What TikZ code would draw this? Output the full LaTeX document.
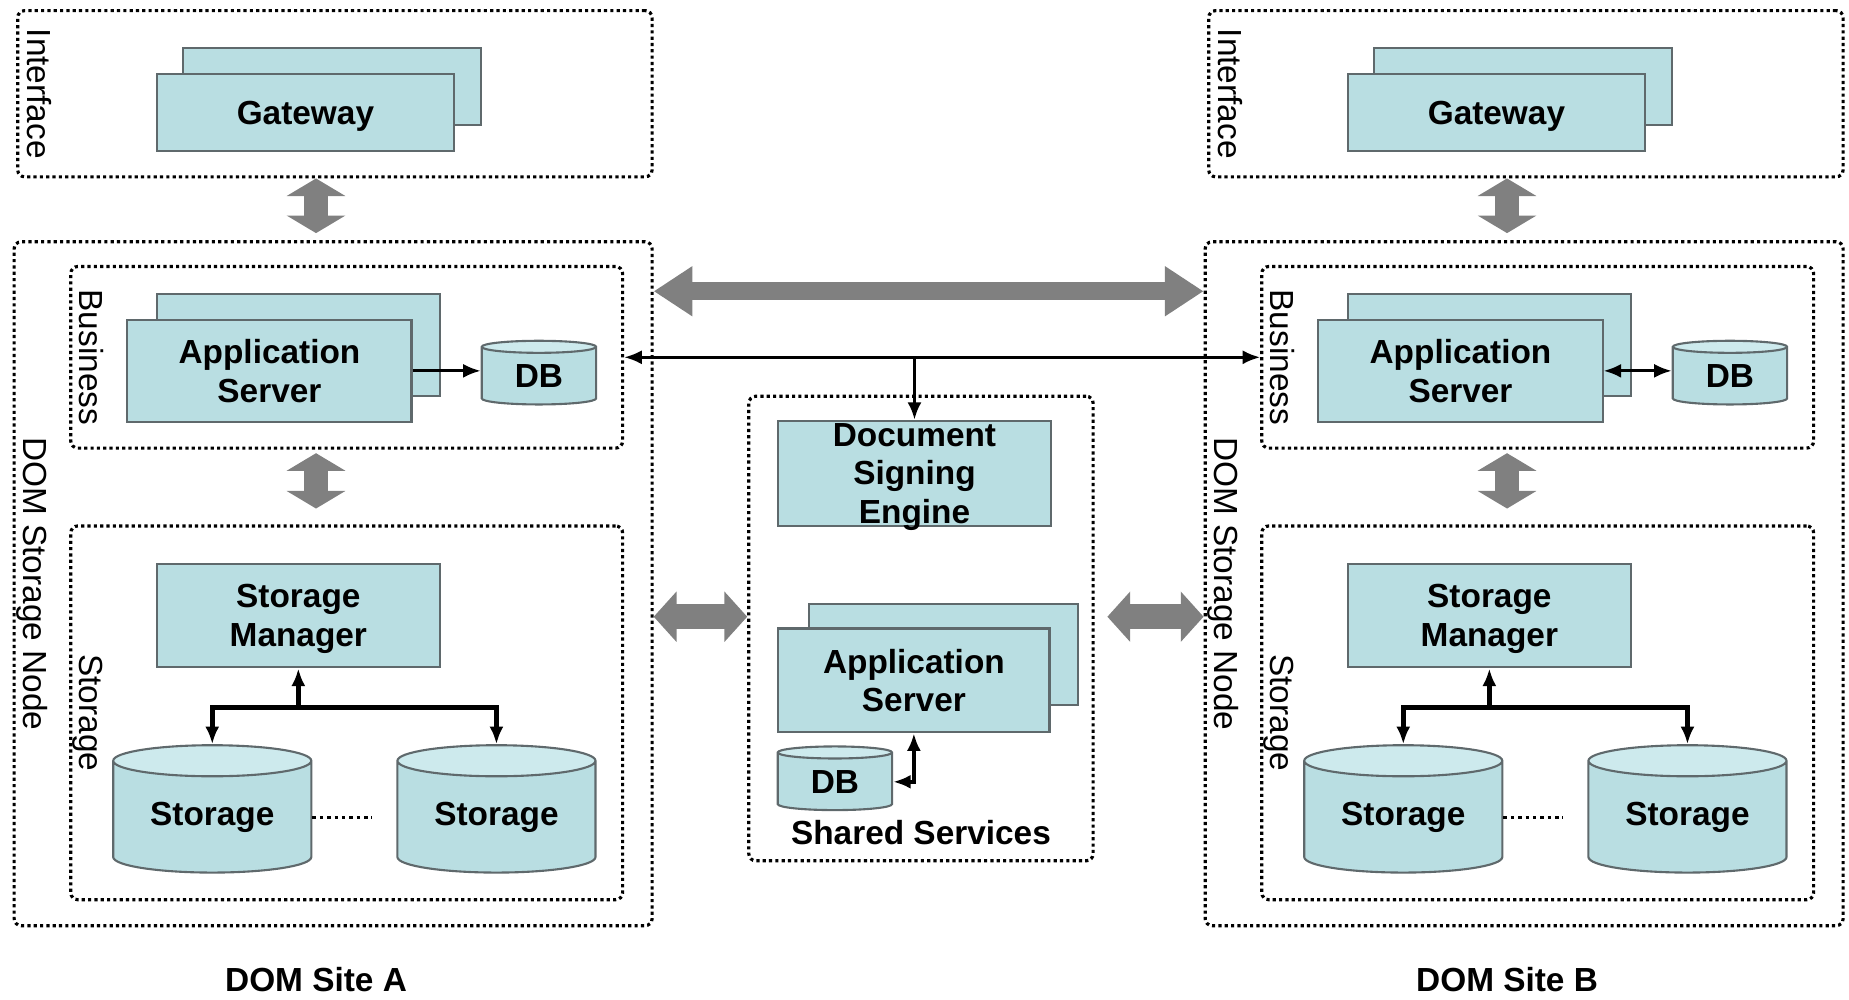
\documentclass[tikz,border=0pt]{standalone}
\usepackage{fontspec}
\setmainfont{Liberation Sans}
\usetikzlibrary{positioning,arrows.meta,calc,fit,shapes.geometric}
\definecolor{aqua}{RGB}{185,222,226}
\definecolor{aquatop}{RGB}{205,234,237}
\definecolor{rim}{RGB}{95,105,108}
\definecolor{pipe}{RGB}{128,128,128}
\newcommand{\boxfont}{\fontsize{9.5}{11}\selectfont\bfseries}
\newcommand{\pxl}{0.01179cm}
\tikzset{
  layer/.style={draw,line width=0.9pt,dash pattern=on 0.9pt off 0.9pt,rounded corners=2pt,inner sep=0pt},
  comp/.style={draw=rim,fill=aqua,line width=0.6pt,inner sep=0pt,align=center,text depth=0pt,font=\boxfont},
  dims/.style 2 args={minimum width=#1*\pxl,minimum height=#2*\pxl},
  dbase/.style={cylinder,shape border rotate=90,aspect=0.25,draw=rim,line width=0.6pt,inner sep=0pt,
    cylinder uses custom fill,cylinder body fill=aqua,cylinder end fill=aquatop,font=\boxfont},
  tag/.style={rotate=-90,anchor=base,inner sep=0pt,font=\fontsize{9.5}{11}\selectfont},
  title/.style={inner sep=0pt,font=\boxfont},
  link/.style={line width=0.8pt,{Latex[length=5pt,width=4pt]}-{Latex[length=5pt,width=4pt]}},
  fwd/.style={line width=0.8pt,-{Latex[length=5pt,width=4pt]}},
  bigflow/.style={draw=pipe,line width=5pt,{Triangle[length=11pt,width=13.5pt]}-{Triangle[length=11pt,width=13.5pt]}},
  sideflow/.style={draw=pipe,line width=7pt,{Triangle[length=6.5pt,width=14pt]}-{Triangle[length=6.5pt,width=14pt]}},
  vflow/.style={draw=pipe,line width=6.8pt,{Triangle[length=5pt,width=16.5pt]}-{Triangle[length=5pt,width=16.5pt]}},
}
\begin{document}
\begin{tikzpicture}[x=0.01179cm,y=-0.01179cm]
  \useasboundingbox (0,0) rectangle (1568,848);
  % the two sites
  \foreach \s/\dx in {A/0,B/1010}{
    \node[layer,fit={(\dx+15,9) (\dx+553,150)}] (if\s) {};
    \node[layer,fit={(\dx+12,205) (\dx+553,785)}] (dsn\s) {};
    \node[layer,fit={(\dx+60,226) (\dx+528,380)}] (bus\s) {};
    \node[layer,fit={(\dx+60,446) (\dx+528,763)}] (st\s) {};
    \node[tag] (ifl\s) at ($(if\s.west)+(10,0)$) {Interface};
    \node[tag] (dsnl\s) at ($(dsn\s.west)+(9,0)$) {DOM Storage Node};
    \node[tag] (busl\s) at ($(bus\s.west)+(9,0)$) {Business};
    \node[tag] (stl\s) at ($(st\s.west)+(9,0)$) {Storage};
    \node[comp,dims={253}{65}] (gwb\s) at (\dx+281.5,73.5) {};
    \node[comp,dims={252}{65}] (gw\s) at (\dx+259,95.5) {Gateway};
    \node[comp,dims={240}{87}] (asb\s) at (\dx+253,292.5) {};
    \node[comp,dims={241}{87}] (as\s) at (\dx+228.5,314.5) {Application\\Server};
    \node[dbase,dims={97}{54}] (db\s) at (\dx+457,319) {DB};
    \node[comp,dims={240}{88}] (sm\s) at (\dx+253,522) {Storage\\Manager};
    \node[dbase,dims={168}{108}] (sto\s1) at (\dx+180,693) {Storage};
    \node[dbase,dims={168}{108}] (sto\s2) at (\dx+421,693) {Storage};
    \node[title] (site\s) at (\dx+268,831) {DOM Site \s};
    \coordinate (vx\s) at (\dx+268,0);
    \coordinate (j\s) at ($(sm\s.south)+(0,33)$);
    \draw[vflow,shorten >=2pt] (if\s.south -| vx\s) -- (dsn\s.north -| vx\s);
    \draw[vflow,shorten <=1pt,shorten >=4.5pt] (bus\s.south -| vx\s) -- (st\s.north -| vx\s);
    \draw[fwd,line width=1.3pt] (j\s) -- (sm\s.south);
    \draw[link,line width=1.3pt] (sto\s1.north) |- (j\s) -| (sto\s2.north);
    \draw[line width=0.9pt,dash pattern=on 1pt off 1.1pt] (sto\s1.east) -- ($(sto\s2.west)+(-21,0)$);
  }
  \draw[fwd] (asA.east) -- (asA.east -| dbA.west);
  \draw[link] (asB.east) -- (asB.east -| dbB.west);
  % shared services
  \node[layer,fit={(635,336) (927,730)}] (ss) {};
  \node[comp,dims={231}{89}] (dse) at (775.5,401.5) {Document\\Signing\\Engine};
  \node[comp,dims={228}{86}] (asbM) at (800,555) {};
  \node[comp,dims={230}{88}] (asM) at (775,577) {Application\\Server};
  \node[dbase,dims={97}{54}] (dbM) at (708,663) {DB};
  \node[title] (ssl) at (781,706) {Shared Services};
  \draw[link,line width=1.1pt] (dbM.east) -| (asM.south);
  \coordinate (tap) at (dse.north |- busA.east);
  \draw[link] (busA.east) -- (busB.west);
  \draw[fwd,line width=1.1pt] (tap) -- (dse.north);
  % gray links between sites
  \coordinate (hi) at (0,247);
  \coordinate (lo) at (0,523);
  \draw[bigflow] (hi -| dsnA.east) -- (hi -| dsnB.west);
  \draw[sideflow] (lo -| dsnA.east) -- (lo -| ss.west);
  \draw[sideflow,shorten <=3.6pt] (lo -| ss.east) -- (lo -| dsnB.west);
\end{tikzpicture}
\end{document}
